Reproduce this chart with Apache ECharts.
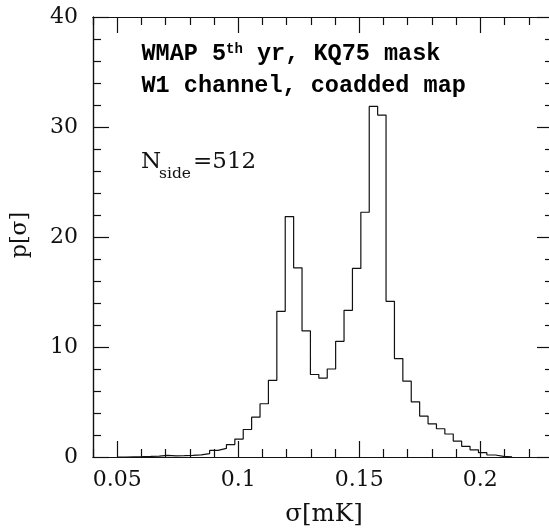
<!DOCTYPE html>
<html>
<head>
<meta charset="utf-8">
<script src="https://cdn.jsdelivr.net/npm/echarts@6/dist/echarts.min.js"></script>
<style>
html,body{margin:0;padding:0;background:#fff;}
#chart{width:549px;height:529px;}
</style>
</head>
<body>
<div id="chart"></div>
<script>
// Histogram bins (sigma in mK)
const sigmaBinStart = 0.05;
const sigmaBinWidth = 0.00347;
const density = [
  0, 0.02, 0.03, 0.05, 0.08, 0.14, 0.1, 0.12, 0.15, 0.2,
  0.3, 0.6, 0.78, 1.13, 1.63, 2.5, 3.62, 4.84, 6.97, 13.24,
  21.86, 17.2, 11.46, 7.5, 7.17, 8.0, 10.52, 13.33, 17.14, 22.25,
  31.87, 31.08, 14.15, 8.95, 6.89, 5.02, 3.72, 3.02, 2.57, 2.09,
  1.45, 0.97, 0.65, 0.39, 0.18, 0.06, 0.02
];
const xMajorTicks = [0.05, 0.1, 0.15, 0.2];
const xMinorTicks = [0.04, 0.06, 0.07, 0.08, 0.09, 0.11, 0.12, 0.13, 0.14, 0.16, 0.17, 0.18, 0.19, 0.21, 0.22, 0.23];
const yMajorTicks = [0, 10, 20, 30, 40];
const yMinorTicks = [2, 4, 6, 8, 12, 14, 16, 18, 22, 24, 26, 28, 32, 34, 36, 38];
const xTitle = 'σ[mK]';
const yTitle = 'p[σ]';

const stepData = [];
for (let i = 0; i < density.length; i++) {
  stepData.push([sigmaBinStart + i * sigmaBinWidth, density[i]]);
}
stepData.push([sigmaBinStart + density.length * sigmaBinWidth, density[density.length - 1]]);

const SERIF = 'DejaVu Serif';
const INK = '#111';
const lineW = 1.2;

function xAxisDef(pos, ticks, len, labels) {
  return {
    type: 'value', position: pos, min: 0.04, max: 0.23,
    axisLine: { show: true, onZero: false, lineStyle: { color: INK, width: lineW } },
    axisTick: { show: true, inside: true, length: len, customValues: ticks, lineStyle: { color: INK, width: lineW } },
    axisLabel: labels ? { show: true, customValues: ticks, margin: 12, color: '#111', fontFamily: SERIF, fontSize: 22 } : { show: false },
    splitLine: { show: false }, minorTick: { show: false }
  };
}
function yAxisDef(pos, ticks, len, labels) {
  return {
    type: 'value', position: pos, min: 0, max: 40,
    axisLine: { show: true, onZero: false, lineStyle: { color: INK, width: lineW } },
    axisTick: { show: true, inside: true, length: len, customValues: ticks, lineStyle: { color: INK, width: lineW } },
    axisLabel: labels ? { show: true, customValues: ticks, margin: 15, color: '#111', fontFamily: SERIF, fontSize: 22 } : { show: false },
    splitLine: { show: false }, minorTick: { show: false }
  };
}

const chart = echarts.init(document.getElementById('chart'), null, { renderer: 'canvas' });
chart.setOption({
  animation: false,
  backgroundColor: '#fff',
  grid: { left: 93, top: 17, width: 460, height: 440, containLabel: false, outerBoundsMode: 'none' },
  xAxis: [
    xAxisDef('bottom', xMajorTicks, 16, true),
    xAxisDef('bottom', xMinorTicks, 8, false),
    xAxisDef('top', xMajorTicks, 16, false),
    xAxisDef('top', xMinorTicks, 8, false)
  ],
  yAxis: [
    yAxisDef('left', yMajorTicks, 16, true),
    yAxisDef('left', yMinorTicks, 8, false),
    yAxisDef('right', yMajorTicks, 16, false),
    yAxisDef('right', yMinorTicks, 8, false)
  ],
  series: [{
    type: 'line', xAxisIndex: 0, yAxisIndex: 0, step: 'end',
    data: stepData, symbol: 'none', showSymbol: false,
    lineStyle: { color: INK, width: 1.2 }
  }],
  graphic: [
    { type: 'text', x: 141.5, y: 54, style: {
      text: '{b|WMAP 5}{s|th}{b| yr, KQ75 mask}', textAlign: 'left', textVerticalAlign: 'middle', fill: '#000',
      rich: {
        b: { fontFamily: 'Liberation Mono', fontWeight: 'bold', fontSize: 23.5, fill: '#000', lineHeight: 24 },
        s: { fontFamily: 'Liberation Mono', fontWeight: 'bold', fontSize: 14, fill: '#000', verticalAlign: 'top', lineHeight: 14 }
      } } },
    { type: 'text', x: 141.5, y: 86, style: {
      text: 'W1 channel, coadded map', textAlign: 'left', textVerticalAlign: 'middle', fill: '#000',
      fontFamily: 'Liberation Mono', fontWeight: 'bold', fontSize: 23.5 } },
    { type: 'text', x: 141, y: 162, style: { text: 'N', textAlign: 'left', textVerticalAlign: 'middle', fill: '#111', fontFamily: SERIF, fontSize: 23 } },
    { type: 'text', x: 159, y: 174, style: { text: 'side', textAlign: 'left', textVerticalAlign: 'middle', fill: '#111', fontFamily: SERIF, fontSize: 15.5 } },
    { type: 'text', x: 193, y: 162, style: { text: '=512', textAlign: 'left', textVerticalAlign: 'middle', fill: '#111', fontFamily: SERIF, fontSize: 23 } },
    { type: 'text', x: 324, y: 515, style: { text: xTitle, textAlign: 'center', textVerticalAlign: 'middle', fill: '#111', fontFamily: SERIF, fontSize: 24.5 } },
    { type: 'text', x: 20, y: 235, rotation: Math.PI / 2, style: { text: yTitle, textAlign: 'center', textVerticalAlign: 'middle', fill: '#111', fontFamily: SERIF, fontSize: 22 } }
  ]
});
</script>
</body>
</html>
